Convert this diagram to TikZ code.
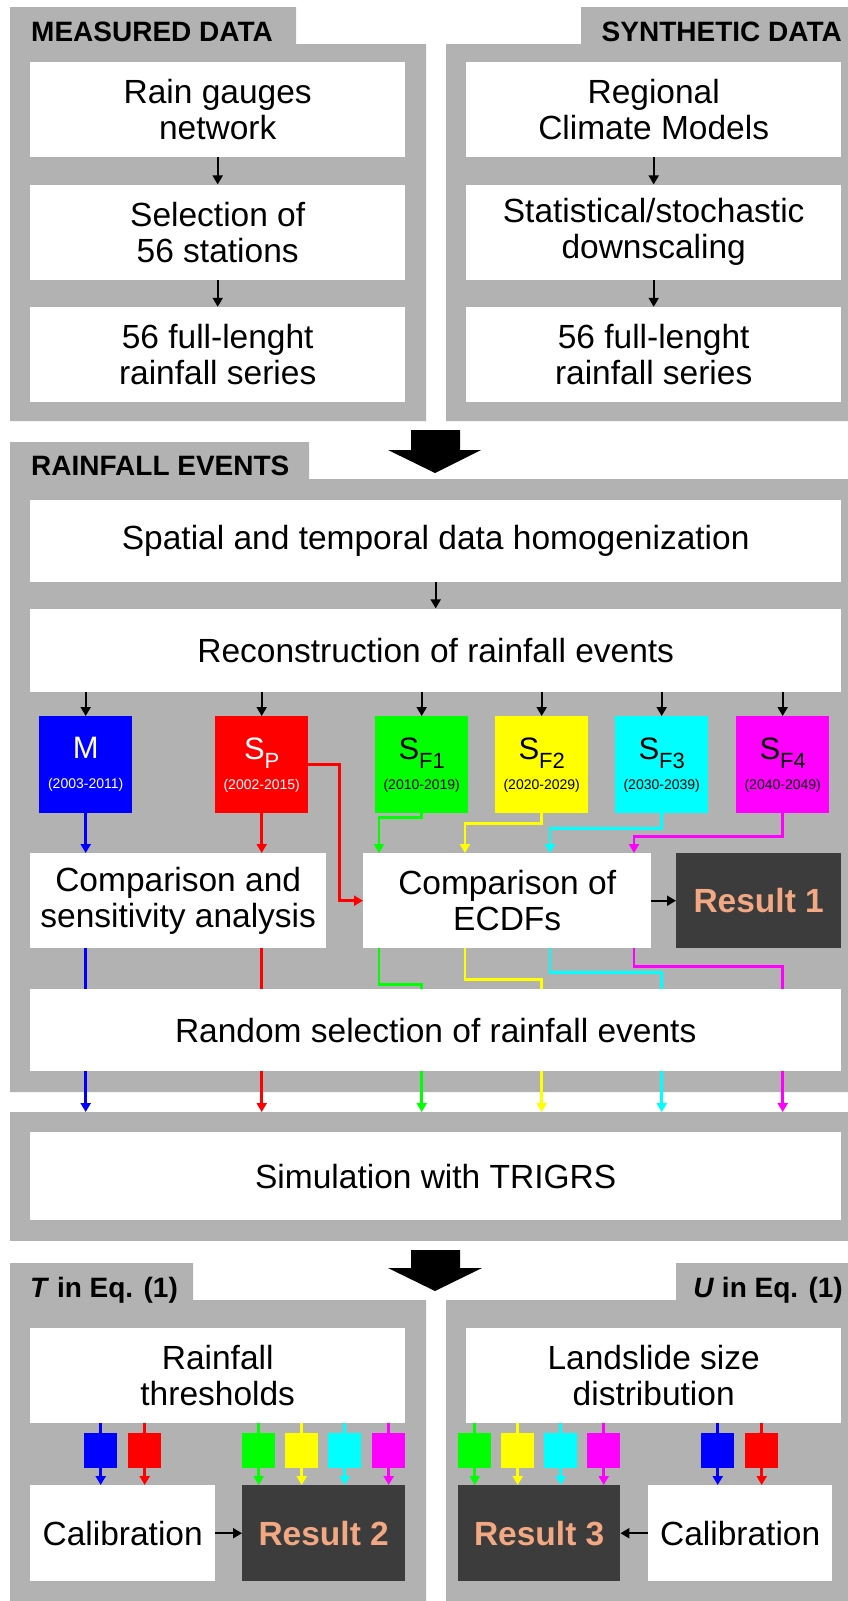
\documentclass[tikz,border=0pt]{standalone}
\usepackage{fontspec}
\setmainfont{Liberation Sans}
\usetikzlibrary{positioning,calc,arrows.meta}

\definecolor{panelgray}{RGB}{178,178,178}
\definecolor{resultbg}{RGB}{60,60,60}
\definecolor{resulttxt}{RGB}{242,168,130}
\definecolor{evblue}{RGB}{0,0,255}
\definecolor{evred}{RGB}{255,0,0}
\definecolor{evgreen}{RGB}{0,255,0}
\definecolor{evyellow}{RGB}{255,255,0}
\definecolor{evcyan}{RGB}{0,255,255}
\definecolor{evmagenta}{RGB}{255,0,255}

\newcommand{\persub}[1]{\raisebox{-9pt}{\fontsize{22}{22}\selectfont #1}}
\newcommand{\peryears}[1]{{\fontsize{14}{30}\selectfont (#1)}}

\begin{document}
\begin{tikzpicture}[%
    x=1pt,
    y=-1pt,
    >={Triangle[length=9pt,width=10pt]},
    panel/.style={fill=panelgray},
    header/.style={%
      inner sep=0pt,
      font=\bfseries\fontsize{28}{30}\selectfont
    },
    whitebox/.style={%
      rectangle,
      fill=white,
      inner sep=0pt,
      anchor=north west,
      align=center,
      font=\fontsize{33.5}{36}\selectfont
    },
    colbox/.style={whitebox, minimum width=375pt, minimum height=95pt},
    widebox/.style={whitebox, minimum width=811pt},
    period/.style={%
      rectangle,
      inner sep=0pt,
      anchor=north west,
      minimum width=93pt,
      minimum height=97pt,
      align=center,
      font=\fontsize{31}{30}\selectfont
    },
    result/.style={%
      rectangle,
      fill=resultbg,
      text=resulttxt,
      inner sep=0pt,
      anchor=north west,
      minimum height=96pt,
      font=\bfseries\fontsize{33.5}{36}\selectfont
    },
    chip/.style={%
      rectangle,
      inner sep=0pt,
      anchor=north west,
      minimum width=33pt,
      minimum height=35pt
    },
    flow/.style={->, line width=2pt},
    feed/.style={->, line width=2.5pt},
    wire/.style={line width=2.5pt}
  ]
    \useasboundingbox (0,0) rectangle (848,1601);

    % panels
    \fill[panel] (10,7) -- (296,7) -- (296,44) -- (426,44) -- (426,421) -- (10,421) -- cycle;
    \fill[panel] (848,7) -- (581,7) -- (581,44) -- (446,44) -- (446,421) -- (848,421) -- cycle;
    \fill[panel] (10,442) -- (309,442) -- (309,479) -- (848,479) -- (848,1092) -- (10,1092) -- cycle;
    \node[panel, rectangle, inner sep=0pt, anchor=north west,
          minimum width=838pt, minimum height=129pt] (simbg) at (10,1112) {};
    \fill[panel] (10,1263) -- (193,1263) -- (193,1300) -- (426,1300) -- (426,1601) -- (10,1601) -- cycle;
    \fill[panel] (848,1263) -- (676,1263) -- (676,1300) -- (446,1300) -- (446,1601) -- (848,1601) -- cycle;

    % block arrows
    \fill (411,430) -- (460,430) -- (460,450) -- (481,450) -- (435,473) -- (388,450) -- (411,450) -- cycle;
    \fill (411,1250) -- (460,1250) -- (460,1268) -- (482,1268) -- (435,1291) -- (388,1268) -- (411,1268) -- cycle;

    \node[header, anchor=base west] (hmeas) at (31,41) {MEASURED DATA};
    \node[header, anchor=base east] (hsynth) at (842,41) {SYNTHETIC DATA};
    \node[header, anchor=base west] (hevents) at (31,475) {RAINFALL EVENTS};
    \node[header, anchor=base west] (htin) at (30,1297) {\textit{T} in Eq. (1)};
    \node[header, anchor=base east] (huin) at (843,1297) {\textit{U} in Eq. (1)};

    \node[colbox] (gauges) at (30,62) {Rain gauges\\network};
    \node[colbox, below=27pt of gauges] (select) {Selection of\\56 stations};
    \node[colbox, below=27pt of select] (series) {56 full-lenght\\rainfall series};
    \node[colbox] (rcm) at (466,62) {Regional\\Climate Models};
    \node[colbox, below=27pt of rcm] (downsc) {Statistical/stochastic\\downscaling};
    \node[colbox, below=27pt of downsc] (seriesS) {56 full-lenght\\rainfall series};

    \node[widebox, minimum height=82pt] (homog) at (30,500) {Spatial and temporal data homogenization};
    \node[widebox, minimum height=83pt, below=26pt of homog] (recon) {Reconstruction of rainfall events};

    \node[period, fill=evblue, text=white] (pM) at (39,716) {M\\\peryears{2003-2011}};
    \node[period, fill=evred, text=white] (pSP) at (215,716) {S\persub{P}\\\peryears{2002-2015}};
    \node[period, fill=evgreen] (pF1) at (375,716) {S\persub{F1}\\\peryears{2010-2019}};
    \node[period, fill=evyellow] (pF2) at (495,716) {S\persub{F2}\\\peryears{2020-2029}};
    \node[period, fill=evcyan] (pF3) at (615,716) {S\persub{F3}\\\peryears{2030-2039}};
    \node[period, fill=evmagenta] (pF4) at (736,716) {S\persub{F4}\\\peryears{2040-2049}};

    \node[whitebox, minimum width=296pt, minimum height=95pt] (comp) at (30,853) {Comparison and\\sensitivity analysis};
    \node[whitebox, minimum width=288pt, minimum height=95pt] (ecdf) at (363,853) {Comparison of\\ECDFs};
    \node[result, minimum width=165pt, minimum height=95pt] (res1) at (676,853) {Result 1};

    \node[widebox, minimum height=82pt] (random) at (30,989) {Random selection of rainfall events};
    \node[widebox, minimum height=88pt] (sim) at (30,1132) {Simulation with TRIGRS};

    \node[colbox] (thr) at (30,1328) {Rainfall\\thresholds};
    \node[colbox] (lsd) at (466,1328) {Landslide size\\distribution};

    \node[chip, fill=evblue] (tB) at (84,1433) {};
    \node[chip, fill=evred] (tR) at (128,1433) {};
    \node[chip, fill=evgreen] (tG) at (242,1433) {};
    \node[chip, fill=evyellow] (tY) at (285,1433) {};
    \node[chip, fill=evcyan] (tC) at (328,1433) {};
    \node[chip, fill=evmagenta] (tP) at (372,1433) {};
    \node[chip, fill=evgreen] (uG) at (458,1433) {};
    \node[chip, fill=evyellow] (uY) at (501,1433) {};
    \node[chip, fill=evcyan] (uC) at (544,1433) {};
    \node[chip, fill=evmagenta] (uP) at (587,1433) {};
    \node[chip, fill=evblue] (uB) at (701,1433) {};
    \node[chip, fill=evred] (uR) at (745,1433) {};

    \node[whitebox, minimum width=185pt, minimum height=96pt] (cal1) at (30,1485) {Calibration};
    \node[result, minimum width=163pt] (res2) at (242,1485) {Result 2};
    \node[result, minimum width=162pt] (res3) at (458,1485) {Result 3};
    \node[whitebox, minimum width=184pt, minimum height=96pt] (cal2) at (648,1485) {Calibration};

    \coordinate (inG) at ($(ecdf.north west)+(16,0)$);
    \coordinate (inY) at ($(ecdf.north west)+(102,0)$);
    \coordinate (inC) at ($(ecdf.north west)+(187,0)$);
    \coordinate (inP) at ($(ecdf.north west)+(271,0)$);
    \coordinate (outG) at ($(ecdf.south west)+(16,0)$);
    \coordinate (outY) at ($(ecdf.south west)+(102,0)$);
    \coordinate (outC) at ($(ecdf.south west)+(187,0)$);
    \coordinate (outP) at ($(ecdf.south west)+(271,0)$);

    \path[flow] (gauges) edge (select)
                (select) edge (series)
                (rcm) edge (downsc)
                (downsc) edge (seriesS)
                (homog) edge (recon)
                (recon.south -| pM) edge (pM)
                (recon.south -| pSP) edge (pSP)
                (recon.south -| pF1) edge (pF1)
                (recon.south -| pF2) edge (pF2)
                (recon.south -| pF3) edge (pF3)
                (recon.south -| pF4) edge (pF4)
                (ecdf) edge (res1)
                (cal1) edge (res2)
                (cal2) edge (res3);

    \draw[feed, evblue] (pM.south) -- (pM.south |- comp.north);
    \draw[feed, evred] (pSP.south) -- (pSP.south |- comp.north);
    \draw[feed, evred] (pSP.east) -- ++(31,0) |- (ecdf.west);
    \draw[feed, evgreen] (pF1.south) -- ++(0,4) -| (inG);
    \draw[feed, evyellow] (pF2.south) -- ++(0,10) -| (inY);
    \draw[feed, evcyan] (pF3.south) -- ++(0,15) -| (inC);
    \draw[feed, evmagenta] (pF4.south) -- ++(0,23) -| (inP);

    \draw[wire, evblue] (comp.south -| pM) -- (pM |- random.north);
    \draw[wire, evred] (comp.south -| pSP) -- (pSP |- random.north);
    \draw[wire, evgreen] (outG) -- ++(0,36) -| (pF1 |- random.north);
    \draw[wire, evyellow] (outY) -- ++(0,31) -| (pF2 |- random.north);
    \draw[wire, evcyan] (outC) -- ++(0,24) -| (pF3 |- random.north);
    \draw[wire, evmagenta] (outP) -- ++(0,18) -| (pF4 |- random.north);

    \path[feed] (random.south -| pM) edge[evblue] (pM |- simbg.north)
                (random.south -| pSP) edge[evred] (pSP |- simbg.north)
                (random.south -| pF1) edge[evgreen] (pF1 |- simbg.north)
                (random.south -| pF2) edge[evyellow] (pF2 |- simbg.north)
                (random.south -| pF3) edge[evcyan] (pF3 |- simbg.north)
                (random.south -| pF4) edge[evmagenta] (pF4 |- simbg.north);

    \path[wire] (thr.south -| tB) edge[evblue] (tB)
                (thr.south -| tR) edge[evred] (tR)
                (thr.south -| tG) edge[evgreen] (tG)
                (thr.south -| tY) edge[evyellow] (tY)
                (thr.south -| tC) edge[evcyan] (tC)
                (thr.south -| tP) edge[evmagenta] (tP)
                (lsd.south -| uG) edge[evgreen] (uG)
                (lsd.south -| uY) edge[evyellow] (uY)
                (lsd.south -| uC) edge[evcyan] (uC)
                (lsd.south -| uP) edge[evmagenta] (uP)
                (lsd.south -| uB) edge[evblue] (uB)
                (lsd.south -| uR) edge[evred] (uR);

    \path[feed] (tB) edge[evblue] (tB |- cal1.north)
                (tR) edge[evred] (tR |- cal1.north)
                (tG) edge[evgreen] (tG |- res2.north)
                (tY) edge[evyellow] (tY |- res2.north)
                (tC) edge[evcyan] (tC |- res2.north)
                (tP) edge[evmagenta] (tP |- res2.north)
                (uG) edge[evgreen] (uG |- res3.north)
                (uY) edge[evyellow] (uY |- res3.north)
                (uC) edge[evcyan] (uC |- res3.north)
                (uP) edge[evmagenta] (uP |- res3.north)
                (uB) edge[evblue] (uB |- cal2.north)
                (uR) edge[evred] (uR |- cal2.north);
\end{tikzpicture}
\end{document}
